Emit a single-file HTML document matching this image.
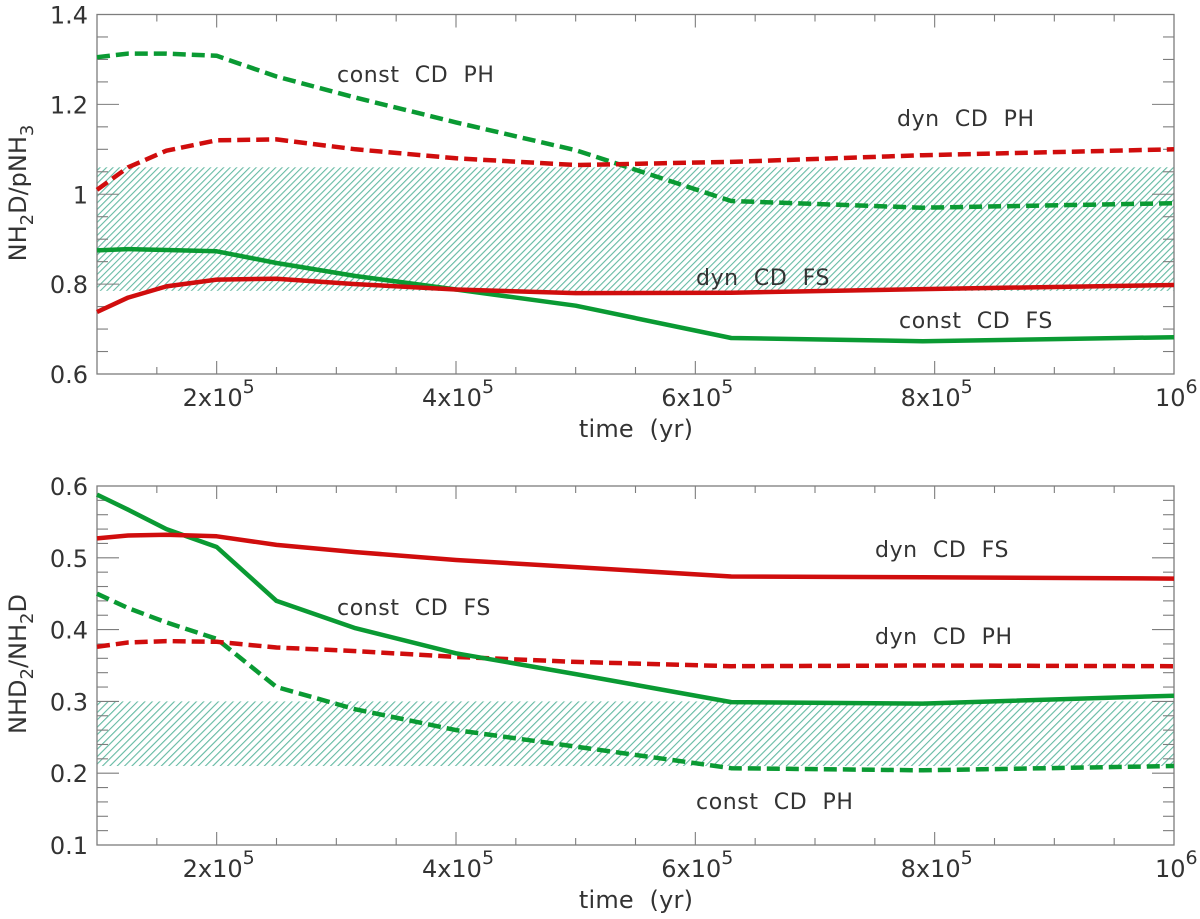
<!DOCTYPE html>
<html lang="en">
<head>
<meta charset="utf-8">
<title>Deuterated ammonia ratios vs time</title>
<style>
html,body{margin:0;padding:0;background:#fff;width:1200px;height:919px;overflow:hidden}
svg{display:block;font-family:"DejaVu Sans","Liberation Sans",sans-serif}
text{font-size:24px;fill:#333}
.lbl{font-size:22px;letter-spacing:0.6px}
</style>
</head>
<body>
<svg id="chart" width="1200" height="919" viewBox="0 0 1200 919" xmlns="http://www.w3.org/2000/svg">
<defs>
<pattern id="hatchTop" patternUnits="userSpaceOnUse" width="4.6" height="4.6" patternTransform="rotate(-45)"><rect width="4.6" height="1.1" fill="#63b9a2"/></pattern>
<pattern id="hatchBottom" patternUnits="userSpaceOnUse" width="5.2" height="5.2" patternTransform="rotate(-45)"><rect width="5.2" height="1.1" fill="#63b9a2"/></pattern>
</defs>
</svg>
<script>
var times = [1e5, 1.26e5, 1.58e5, 2e5, 2.5e5, 3.16e5, 4e5, 5e5, 6.3e5, 7.9e5, 1e6];

var topConstPH = [1.305, 1.313, 1.313, 1.308, 1.262, 1.215, 1.160, 1.098, 0.985, 0.970, 0.980];
var topDynPH = [1.010, 1.060, 1.097, 1.120, 1.122, 1.100, 1.080, 1.065, 1.072, 1.087, 1.100];
var topConstFS = [0.875, 0.878, 0.876, 0.873, 0.847, 0.818, 0.788, 0.752, 0.680, 0.673, 0.682];
var topDynFS = [0.738, 0.770, 0.795, 0.810, 0.812, 0.800, 0.788, 0.780, 0.781, 0.789, 0.798];
var topBand = [0.785, 1.06];

var bottomConstFS = [0.588, 0.567, 0.540, 0.515, 0.440, 0.402, 0.367, 0.338, 0.299, 0.297, 0.308];
var bottomDynFS = [0.527, 0.531, 0.532, 0.530, 0.518, 0.508, 0.497, 0.487, 0.474, 0.473, 0.471];
var bottomDynPH = [0.376, 0.382, 0.384, 0.383, 0.375, 0.370, 0.362, 0.355, 0.349, 0.350, 0.349];
var bottomConstPH = [0.450, 0.430, 0.410, 0.387, 0.320, 0.289, 0.260, 0.237, 0.207, 0.204, 0.210];
var bottomBand = [0.21, 0.30];

var xMajorValues = [2e5, 4e5, 6e5, 8e5];
var xMajorMantissas = ['2', '4', '6', '8'];
var topYTicks = [0.6, 0.8, 1, 1.2, 1.4];
var topYLabels = ['0.6', '0.8', '1', '1.2', '1.4'];
var bottomYTicks = [0.1, 0.2, 0.3, 0.4, 0.5, 0.6];
var bottomYLabels = ['0.1', '0.2', '0.3', '0.4', '0.5', '0.6'];

var svg = document.getElementById('chart');
var NS = 'http://www.w3.org/2000/svg';
var L = 97, R = 1174;
var AXC = '#7d7d7d';
var GREEN = '#0a9a33', RED = '#d00d0d';

function mk(tag, attrs, parent) {
  var e = document.createElementNS(NS, tag);
  for (var k in attrs) e.setAttribute(k, attrs[k]);
  (parent || svg).appendChild(e);
  return e;
}
function xs(t) { return L + (t - 1e5) / 9e5 * (R - L); }

function drawPanel(p) {
  var g = mk('g', {});
  
  
  function ys(v) { return p.bot - (v - p.min) / (p.max - p.min) * (p.bot - p.top); }

  var band = mk('rect', {x: L, y: ys(p.band[1]), width: R - L, height: ys(p.band[0]) - ys(p.band[1]), fill: 'url(#' + p.hatch + ')'}, g);
  
  

  var frame = mk('rect', {x: L, y: p.top, width: R - L, height: p.bot - p.top, fill: 'none', stroke: AXC, 'stroke-width': 1.3}, g);
  
  

  var t, len, x, i;
  for (t = 1.5e5; t < 1e6; t += 5e4) {
    x = xs(t);
    len = (Math.round(t / 5e4) % 4 === 0) ? 13 : 7;
    mk('line', {x1: x, x2: x, y1: p.bot, y2: p.bot - len, stroke: AXC, 'stroke-width': 1.1}, g);
    mk('line', {x1: x, x2: x, y1: p.top, y2: p.top + len, stroke: AXC, 'stroke-width': 1.1}, g);
  }
  var n = Math.round((p.max - p.min) / p.minor);
  for (i = 1; i < n; i++) {
    var v = p.min + i * p.minor, y = ys(v);
    len = (i % p.every === 0) ? 22 : 11;
    mk('line', {x1: L, x2: L + len, y1: y, y2: y, stroke: AXC, 'stroke-width': 1.1}, g);
    mk('line', {x1: R, x2: R - len, y1: y, y2: y, stroke: AXC, 'stroke-width': 1.1}, g);
  }

  p.yTicks.forEach(function (v, idx) {
    var tx = mk('text', {x: 88, y: ys(v) + 9, 'text-anchor': 'end'}, g);
    tx.textContent = p.yLabels[idx];
    
    
  });

  xMajorValues.forEach(function (val, idx) {
    var tx = mk('text', {x: xs(val) + 2, y: p.bot + 32, 'text-anchor': 'middle'}, g);
    var a = mk('tspan', {}, tx); a.textContent = xMajorMantissas[idx] + 'x10';
    var b = mk('tspan', {dy: -13, style: 'font-size:19px'}, tx); b.textContent = '5';
    
    
  });
  var last = mk('text', {x: 1155, y: p.bot + 32}, g);
  var a1 = mk('tspan', {}, last); a1.textContent = '10';
  var b1 = mk('tspan', {dy: -13, style: 'font-size:19px'}, last); b1.textContent = '6';
  
  

  var xt = mk('text', {x: 636, y: p.bot + 63, 'text-anchor': 'middle', style: 'font-size:24px;letter-spacing:0.2px;white-space:pre'}, g);
  xt.textContent = 'time  (yr)';
  
  

  p.series.forEach(function (s) {
    var pts = s.values.map(function (v, i) { return xs(times[i]).toFixed(1) + ',' + ys(v).toFixed(1); }).join(' ');
    var attrs = {points: pts, fill: 'none', stroke: s.color, 'stroke-width': 4.5, 'stroke-linejoin': 'round'};
    if (s.dash) attrs['stroke-dasharray'] = '13 6';
    var l = mk('polyline', attrs, g);
    
    
  });

  p.labels.forEach(function (lb) {
    var tx = mk('text', {x: lb[1], y: lb[2], 'class': 'lbl', style: 'white-space:pre'}, g);
    tx.textContent = lb[0];
    
    
  });
}

drawPanel({
  name: 'top-panel', top: 14.5, bot: 374, min: 0.6, max: 1.4, minor: 0.05, every: 4,
  band: topBand, hatch: 'hatchTop', yTicks: topYTicks, yLabels: topYLabels,
  series: [
    {name: 'const-cd-ph-line', values: topConstPH, color: GREEN, dash: true},
    {name: 'dyn-cd-ph-line', values: topDynPH, color: RED, dash: true},
    {name: 'const-cd-fs-line', values: topConstFS, color: GREEN, dash: false},
    {name: 'dyn-cd-fs-line', values: topDynFS, color: RED, dash: false}
  ],
  labels: [['const  CD  PH', 337, 82], ['dyn  CD  PH', 897, 126], ['dyn  CD  FS', 696, 285], ['const  CD  FS', 899, 328]]
});
drawPanel({
  name: 'bottom-panel', top: 486, bot: 845, min: 0.1, max: 0.6, minor: 0.02, every: 5,
  band: bottomBand, hatch: 'hatchBottom', yTicks: bottomYTicks, yLabels: bottomYLabels,
  series: [
    {name: 'const-cd-ph-line', values: bottomConstPH, color: GREEN, dash: true},
    {name: 'dyn-cd-ph-line', values: bottomDynPH, color: RED, dash: true},
    {name: 'const-cd-fs-line', values: bottomConstFS, color: GREEN, dash: false},
    {name: 'dyn-cd-fs-line', values: bottomDynFS, color: RED, dash: false}
  ],
  labels: [['dyn  CD  FS', 875, 557], ['const  CD  FS', 337, 615], ['dyn  CD  PH', 875, 644], ['const  CD  PH', 696, 809]]
});

function yTitle(name, cy, parts) {
  var tx = mk('text', {transform: 'translate(26,' + cy + ') rotate(-90)', 'text-anchor': 'middle', style: 'font-size:24px'});
  
  
  parts.forEach(function (p) {
    var t = mk('tspan', p[1] ? {dy: 7, style: 'font-size:18px'} : {dy: p[2] || 0}, tx);
    t.textContent = p[0];
  });
}
yTitle('top-y-axis-title', 193, [['NH'], ['2', 1], ['D/pNH', 0, -7], ['3', 1]]);
yTitle('bottom-y-axis-title', 664, [['NHD'], ['2', 1], ['/NH', 0, -7], ['2', 1], ['D', 0, -7]]);
</script>
</body>
</html>
